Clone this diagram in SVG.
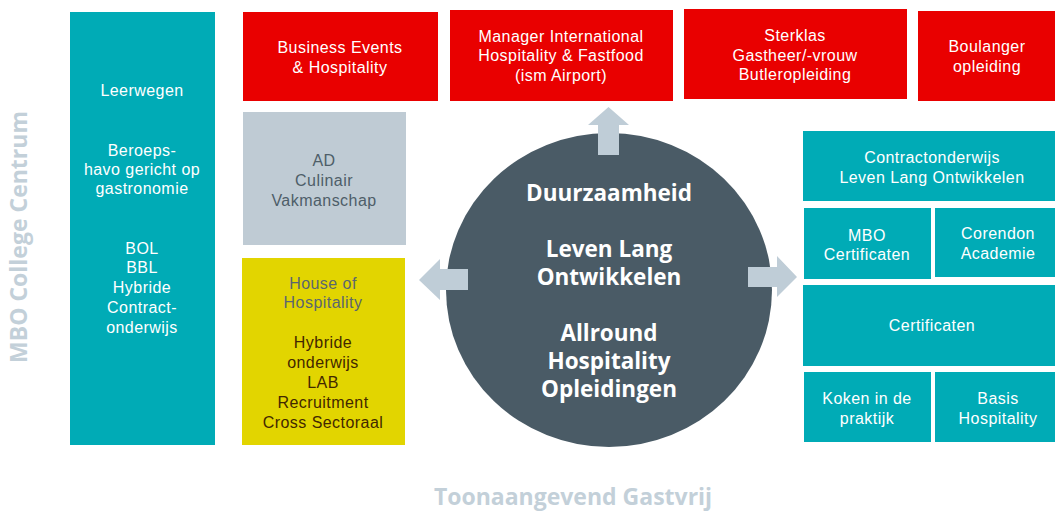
<svg xmlns="http://www.w3.org/2000/svg" width="1055" height="511" viewBox="0 0 1055 511">
<style>
.t{font-family:"Liberation Sans",Arial,sans-serif;font-size:16px;letter-spacing:0.45px;text-anchor:middle;dominant-baseline:central}
.w{fill:#ffffff}
.teal{fill:#00abb6}
.red{fill:#e90000}
.b{font-family:"Open Sans","Liberation Sans",sans-serif;font-weight:bold;font-size:22.5px;text-anchor:middle;dominant-baseline:central;fill:#ffffff}
.lbl{font-family:"Open Sans","Liberation Sans",sans-serif;font-weight:bold;font-size:23px;text-anchor:middle;fill:#c3d0d9}
.arr{fill:#bfcdd7}
</style>
<rect width="1055" height="511" fill="#ffffff"/>
<text class="lbl" transform="translate(27,237) rotate(-90)">MBO College Centrum</text>
<text class="lbl" x="573" y="505">Toonaangevend Gastvrij</text>

<g id="leerwegen">
<rect class="teal" x="70" y="12" width="145" height="433"/>
<text class="t w" x="142" y="90">Leerwegen</text>
<text class="t w" x="142" y="150">Beroeps-</text>
<text class="t w" x="142" y="169">havo gericht op</text>
<text class="t w" x="142" y="188">gastronomie</text>
<text class="t w" x="142" y="248">BOL</text>
<text class="t w" x="142" y="267">BBL</text>
<text class="t w" x="142" y="287">Hybride</text>
<text class="t w" x="142" y="307">Contract-</text>
<text class="t w" x="142" y="327">onderwijs</text>
</g>

<g id="business-events">
<rect class="red" x="243" y="12" width="195" height="89"/>
<text class="t w" x="340" y="47">Business Events</text>
<text class="t w" x="340" y="67">&amp; Hospitality</text>
</g>
<g id="manager-international">
<rect class="red" x="450" y="10" width="223" height="91"/>
<text class="t w" x="561" y="36">Manager International</text>
<text class="t w" x="561" y="55">Hospitality &amp; Fastfood</text>
<text class="t w" x="561" y="75">(ism Airport)</text>
</g>
<g id="sterklas">
<rect class="red" x="684" y="9" width="223" height="90"/>
<text class="t w" x="795" y="35">Sterklas</text>
<text class="t w" x="795" y="55">Gastheer/-vrouw</text>
<text class="t w" x="795" y="74">Butleropleiding</text>
</g>
<g id="boulanger">
<rect class="red" x="918" y="11" width="137" height="90"/>
<text class="t w" x="987" y="46">Boulanger</text>
<text class="t w" x="987" y="66">opleiding</text>
</g>

<g id="ad-culinair">
<rect x="243" y="112" width="163" height="133" fill="#bfcbd4"/>
<text class="t" x="324" y="160" fill="#4e5e69">AD</text>
<text class="t" x="324" y="180" fill="#4e5e69">Culinair</text>
<text class="t" x="324" y="200" fill="#4e5e69">Vakmanschap</text>
</g>
<g id="house-of-hospitality">
<rect x="242" y="258" width="163" height="187" fill="#e2d500"/>
<text class="t" x="323" y="283" fill="#5b6670">House of</text>
<text class="t" x="323" y="302" fill="#5b6670">Hospitality</text>
<text class="t" x="323" y="342" fill="#422800">Hybride</text>
<text class="t" x="323" y="362" fill="#422800">onderwijs</text>
<text class="t" x="323" y="382" fill="#422800">LAB</text>
<text class="t" x="323" y="402" fill="#422800">Recruitment</text>
<text class="t" x="323" y="422" fill="#422800">Cross Sectoraal</text>
</g>

<g id="center">
<ellipse cx="609" cy="290" rx="163" ry="157" fill="#4a5b66"/>
<text class="b" x="609" y="192">Duurzaamheid</text>
<text class="b" x="609" y="248">Leven Lang</text>
<text class="b" x="609" y="276">Ontwikkelen</text>
<text class="b" x="609" y="332">Allround</text>
<text class="b" x="609" y="360">Hospitality</text>
<text class="b" x="609" y="388">Opleidingen</text>
</g>

<g id="contractonderwijs">
<rect class="teal" x="803" y="131" width="252" height="70"/>
<text class="t w" x="932" y="157">Contractonderwijs</text>
<text class="t w" x="932" y="177">Leven Lang Ontwikkelen</text>
</g>
<g id="mbo-certificaten">
<rect class="teal" x="804" y="208" width="127" height="71"/>
<text class="t w" x="867" y="235">MBO</text>
<text class="t w" x="867" y="254">Certificaten</text>
</g>
<g id="corendon">
<rect class="teal" x="935" y="208" width="120" height="69"/>
<text class="t w" x="998" y="233">Corendon</text>
<text class="t w" x="998" y="253">Academie</text>
</g>
<g id="certificaten">
<rect class="teal" x="803" y="285" width="252" height="81"/>
<text class="t w" x="932" y="325">Certificaten</text>
</g>
<g id="koken">
<rect class="teal" x="804" y="372" width="127" height="70"/>
<text class="t w" x="867" y="398">Koken in de</text>
<text class="t w" x="867" y="418">praktijk</text>
</g>
<g id="basis-hospitality">
<rect class="teal" x="935" y="372" width="120" height="70"/>
<text class="t w" x="998" y="398">Basis</text>
<text class="t w" x="998" y="418">Hospitality</text>
</g>

<g id="connectors">
<polygon class="arr" points="598,155 598,125 588,125 608.5,107 629,125 619,125 619,155"/>
<polygon class="arr" points="468,269 440,269 440,259 419,280 440,300 440,290 468,290"/>
<polygon class="arr" points="748,267 777,267 777,256 797,277 777,297 777,287 748,287"/>
</g>
</svg>
